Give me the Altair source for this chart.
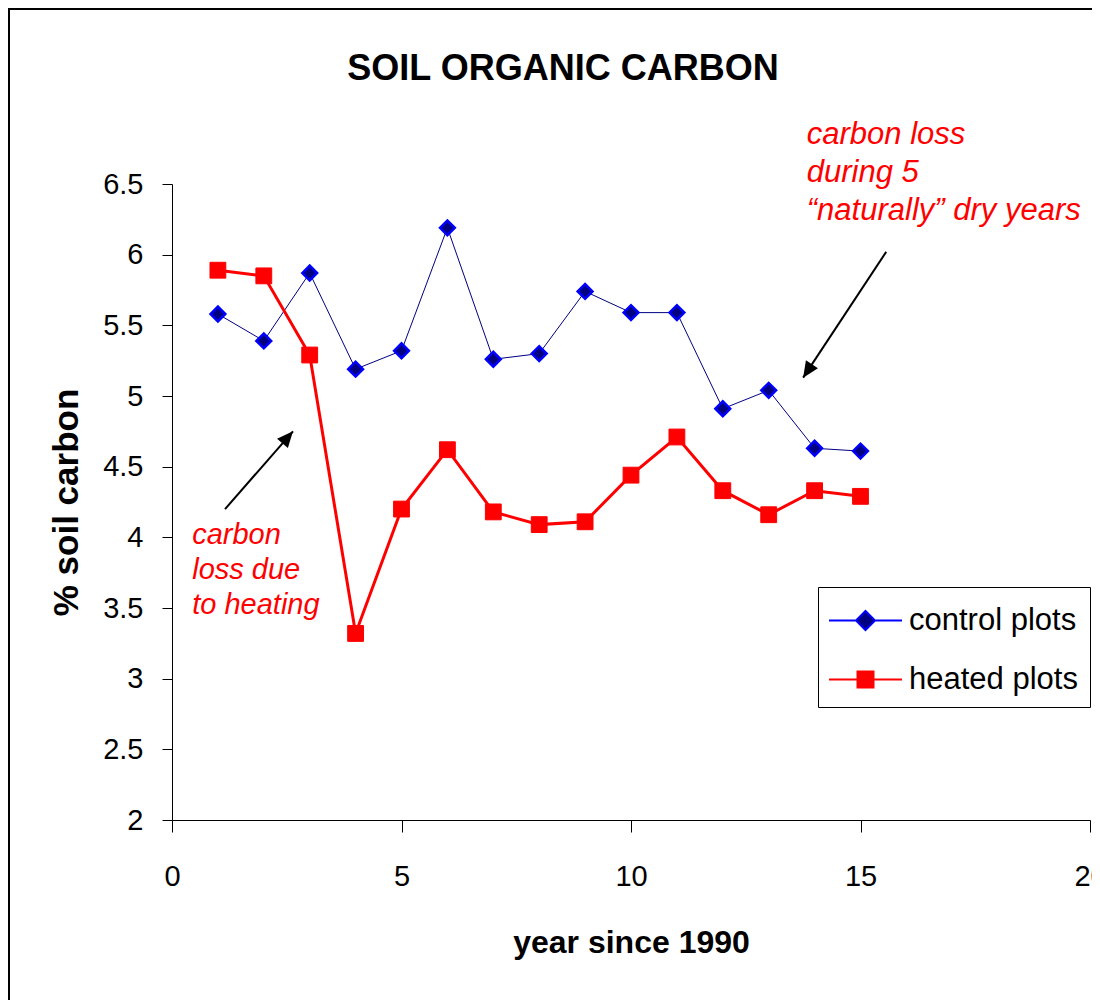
import math
import altair as alt
import pandas as pd

# ---------------- data ----------------
years = list(range(1, 16))
control = [5.58, 5.39, 5.87, 5.19, 5.32, 6.19, 5.26, 5.30, 5.74, 5.59, 5.59, 4.91, 5.04, 4.63, 4.61]
heated = [5.89, 5.85, 5.29, 3.32, 4.20, 4.62, 4.18, 4.09, 4.11, 4.44, 4.71, 4.33, 4.16, 4.33, 4.29]
series_names = ["control plots", "heated plots"]

note_right = "carbon loss\nduring 5\n\u201cnaturally\u201d dry years"
note_left = "carbon\nloss due\nto heating"

# annotation anchors (data units)
note_right_xy = (13.83, 6.78)
note_left_xy = (0.44, 3.95)
arrow_left = [(1.155, 4.20), (2.636, 4.75)]
arrow_right = [(15.56, 6.02), (13.75, 5.13)]

# ---------------- layout ----------------
W, H = 918, 636
XMIN, XMAX = 0, 20
YMIN, YMAX = 2, 6.5
PAD = {"left": 164, "top": 176, "right": 2, "bottom": 180}
FONT = "Liberation Sans"
NAVY = "#000080"
BLUE = "#0000ff"
RED = "#ff0000"

df = pd.DataFrame({
    "year": years * 2,
    "carbon": control + heated,
    "series": [series_names[0]] * len(years) + [series_names[1]] * len(years),
})

xs = alt.Scale(domain=[XMIN, XMAX], nice=False, zero=False)
ys = alt.Scale(domain=[YMIN, YMAX], nice=False, zero=False)

x_enc = alt.X("year:Q", scale=xs,
              axis=alt.Axis(values=[0, 5, 10, 15, 20], format="d", title="year since 1990",
                            grid=False, labelFlush=False, labelOverlap=False,
                            tickSize=12, labelPadding=30, titlePadding=36,
                            titleFontSize=32))
y_enc = alt.Y("carbon:Q", scale=ys,
              axis=alt.Axis(values=[2, 2.5, 3, 3.5, 4, 4.5, 5, 5.5, 6, 6.5], format=".1~f",
                            title="% soil carbon", grid=False, labelFlush=False,
                            labelOverlap=False, tickSize=10, labelPadding=19,
                            titlePadding=18, titleFontSize=35))

base = alt.Chart(df)

line_c = base.transform_filter(alt.datum.series == series_names[0]).mark_line(
    color=NAVY, strokeWidth=1).encode(x=x_enc, y=y_enc)
line_h = base.transform_filter(alt.datum.series == series_names[1]).mark_line(
    color=RED, strokeWidth=3).encode(x=x_enc, y=y_enc)
pts_c = base.transform_filter(alt.datum.series == series_names[0]).mark_point(
    shape="diamond", filled=True, fill=NAVY, stroke=BLUE, strokeWidth=2.5,
    size=220, opacity=1).encode(x=x_enc, y=y_enc)
pts_h = base.transform_filter(alt.datum.series == series_names[1]).mark_point(
    shape="square", filled=True, fill=RED, stroke=RED, strokeWidth=1,
    size=250, opacity=1).encode(x=x_enc, y=y_enc)

# legend-only layer (no visible data), symbols show line + marker
r = 20.5
lw = 36.5 / r
dh = 9.5 / r
sq = 8.0 / r
path_c = f"M{-lw:.3f},0L{-dh:.3f},0M{dh:.3f},0L{lw:.3f},0M0,{-dh:.3f}L{dh:.3f},0L0,{dh:.3f}L{-dh:.3f},0Z"
path_h = f"M{-lw:.3f},0L{-sq:.3f},0M{sq:.3f},0L{lw:.3f},0M{-sq:.3f},{-sq:.3f}L{sq:.3f},{-sq:.3f}L{sq:.3f},{sq:.3f}L{-sq:.3f},{sq:.3f}Z"

leg = alt.Legend(title=None, orient="none", legendX=646, legendY=403,
                 strokeColor="black", fillColor="white", padding=12,
                 labelFont=FONT, labelFontSize=31, labelColor="black", labelLimit=400,
                 symbolSize=(2 * r) ** 2, symbolStrokeWidth=2, symbolOffset=14,
                 labelOffset=22, rowPadding=22, symbolOpacity=1)

legend_layer = base.transform_filter("false").mark_point(filled=True, opacity=1).encode(
    x=x_enc, y=y_enc,
    shape=alt.Shape("series:N", scale=alt.Scale(domain=series_names, range=[path_c, path_h]), legend=leg),
    fill=alt.Fill("series:N", scale=alt.Scale(domain=series_names, range=[NAVY, RED]), legend=leg),
    stroke=alt.Stroke("series:N", scale=alt.Scale(domain=series_names, range=[BLUE, RED]), legend=leg),
)

# annotations
txt_r = alt.Chart(pd.DataFrame({"x": [note_right_xy[0]], "y": [note_right_xy[1]], "t": [note_right]})).mark_text(
    align="left", baseline="alphabetic", lineBreak="\n", lineHeight=38, font=FONT,
    fontSize=31, fontStyle="italic", color=RED).encode(
    x=alt.X("x:Q", scale=xs), y=alt.Y("y:Q", scale=ys), text="t:N")
txt_l = alt.Chart(pd.DataFrame({"x": [note_left_xy[0]], "y": [note_left_xy[1]], "t": [note_left]})).mark_text(
    align="left", baseline="alphabetic", lineBreak="\n", lineHeight=35, font=FONT,
    fontSize=29, fontStyle="italic", color=RED).encode(
    x=alt.X("x:Q", scale=xs), y=alt.Y("y:Q", scale=ys), text="t:N")

arrows = []
for i, a in enumerate([arrow_left, arrow_right]):
    for (x, y) in a:
        arrows.append({"id": i, "x": x, "y": y})
arr_df = pd.DataFrame(arrows)

heads = []
for i, a in enumerate([arrow_left, arrow_right]):
    (x0, y0), (x1, y1) = a
    dx = (x1 - x0) * W / (XMAX - XMIN)
    dy_screen = -(y1 - y0) * H / (YMAX - YMIN)
    ang = math.degrees(math.atan2(dx, -dy_screen)) % 360
    heads.append({"x": x1, "y": y1, "angle": ang})
head_df = pd.DataFrame(heads)

arrow_lines = alt.Chart(arr_df).mark_line(color="black", strokeWidth=2).encode(
    x=alt.X("x:Q", scale=xs), y=alt.Y("y:Q", scale=ys), detail="id:N")
arrow_heads = alt.Chart(head_df).mark_point(
    shape="M0,0L-0.45,1L0.45,1Z", filled=True, color="black", opacity=1, size=1024).encode(
    x=alt.X("x:Q", scale=xs), y=alt.Y("y:Q", scale=ys), angle=alt.Angle("angle:Q", scale=None))

# outer frame (decoration)
frame_top = -(PAD["top"] - 1)
frame = alt.Chart(pd.DataFrame({"k": [0]})).mark_rect(
    fill=None, stroke="black", strokeWidth=2).encode(
    x=alt.value(-(PAD["left"] - 1)), x2=alt.value(W + 40),
    y=alt.value(frame_top), y2=alt.value(H + 250))

# title baseline ~104px above plot top (measured offset correction of 36px)
title_dy = (-104) - (frame_top - 1) + 36

chart = alt.layer(
    frame, line_c, line_h, pts_c, pts_h, legend_layer, arrow_lines, arrow_heads, txt_r, txt_l
).properties(
    width=W, height=H,
    title=alt.TitleParams("SOIL ORGANIC CARBON", font=FONT, fontSize=36, fontWeight="bold",
                          color="black", anchor="middle", dx=-68, dy=title_dy, offset=0,
                          baseline="alphabetic"),
    autosize=alt.AutoSizeParams(type="none"),
    padding=PAD,
    background="white",
).configure_view(stroke=None).configure_axis(
    labelFont=FONT, labelFontSize=29, labelColor="black",
    titleFont=FONT, titleFontWeight="bold", titleColor="black",
    domainColor="black", domainWidth=1, tickColor="black", tickWidth=1,
)

chart.save("out.html", embed_options={"renderer": "svg", "actions": False})
